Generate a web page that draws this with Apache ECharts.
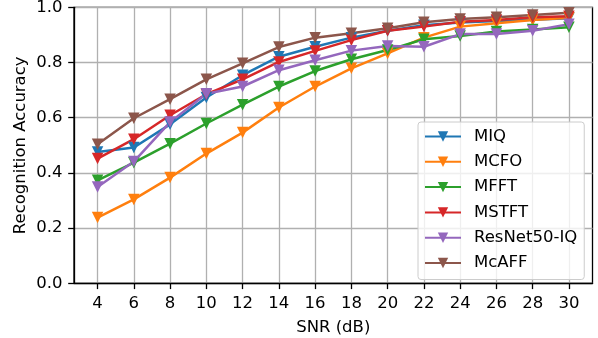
<!DOCTYPE html>
<html>
<head>
<meta charset="utf-8">
<script src="https://cdn.jsdelivr.net/npm/echarts@6/dist/echarts.min.js"></script>
<style>
  html, body { margin: 0; padding: 0; background: #fff; }
  #chart { width: 598px; height: 338px; }
</style>
</head>
<body>
<div id="chart"></div>
<script>
// SNR (dB) categories
var snr = [4, 6, 8, 10, 12, 14, 16, 18, 20, 22, 24, 26, 28, 30];

// recognition accuracy per model
var miq      = [0.476, 0.492, 0.576, 0.673, 0.754, 0.821, 0.857, 0.890, 0.915, 0.935, 0.945, 0.950, 0.955, 0.960];
var mcfo     = [0.238, 0.304, 0.383, 0.470, 0.546, 0.637, 0.713, 0.779, 0.833, 0.890, 0.930, 0.942, 0.954, 0.962];
var mfft     = [0.373, 0.437, 0.506, 0.579, 0.647, 0.713, 0.769, 0.812, 0.845, 0.884, 0.896, 0.912, 0.920, 0.928];
var mstft    = [0.452, 0.522, 0.609, 0.685, 0.739, 0.802, 0.842, 0.881, 0.915, 0.930, 0.948, 0.954, 0.964, 0.968];
var resnetIQ = [0.349, 0.441, 0.584, 0.687, 0.713, 0.772, 0.808, 0.843, 0.860, 0.857, 0.903, 0.903, 0.915, 0.939];
var mcaff    = [0.504, 0.598, 0.667, 0.739, 0.797, 0.856, 0.890, 0.906, 0.924, 0.946, 0.958, 0.964, 0.972, 0.980];

var names  = ['MIQ', 'MCFO', 'MFFT', 'MSTFT', 'ResNet50-IQ', 'McAFF'];
var values = [miq, mcfo, mfft, mstft, resnetIQ, mcaff];
var colors = ['#1f77b4', '#ff7f0e', '#2ca02c', '#d62728', '#9467bd', '#8c564b'];

var font = 'DejaVu Sans';
var fs = 16.5;

var chart = echarts.init(document.getElementById('chart'), null, { renderer: 'canvas' });

var series = names.map(function (n, i) {
    return {
        name: n,
        type: 'line',
        data: snr.map(function (x, k) { return [x, values[i][k]]; }),
        symbol: 'triangle',
        symbolRotate: 180,
        symbolSize: 11.5,
        showAllSymbol: true,
        lineStyle: { width: 2.5, color: colors[i] },
        itemStyle: { color: colors[i] },
        emphasis: { disabled: true },
        animation: false
    };
});

var o = {
    animation: false,
    color: colors,
    textStyle: { fontFamily: font },
    grid: {
        left: 74,
        right: 5.5,
        top: 7.3,
        bottom: 54.7,
        outerBoundsMode: 'none',
        containLabel: false,
        show: true,
        borderColor: '#000',
        borderWidth: 1.3
    },
    legend: {
        orient: 'vertical',
        left: 418,
        top: 122,
        padding: [6, 7, 8, 6],
        itemWidth: 36,
        itemHeight: 13,
        itemGap: 8.3,
        backgroundColor: 'rgba(255,255,255,0.8)',
        borderColor: '#cccccc',
        borderWidth: 1,
        borderRadius: 3,
        textStyle: { fontFamily: font, fontSize: fs, color: '#000', padding: [0, 0, 0, 8] },
        data: names
    },
    xAxis: {
        type: 'value',
        min: 2.7,
        max: 31.3,
        name: 'SNR (dB)',
        nameLocation: 'middle',
        nameGap: 36,
        nameMoveOverlap: false,
        nameTextStyle: { fontFamily: font, fontSize: fs, color: '#000' },
        axisLine: { show: true, onZero: false, lineStyle: { color: '#000', width: 1.3 } },
        axisTick: { show: true, length: 5.8, customValues: snr, lineStyle: { color: '#000', width: 1.3 } },
        axisLabel: { customValues: snr, margin: 11.6, fontFamily: font, fontSize: fs, color: '#000' },
        splitLine: { show: true, lineStyle: { color: '#b0b0b0', width: 1.3 } }
    },
    yAxis: {
        type: 'value',
        min: 0,
        max: 1,
        interval: 0.2,
        name: 'Recognition Accuracy',
        nameLocation: 'middle',
        nameGap: 45,
        nameMoveOverlap: false,
        nameTextStyle: { fontFamily: font, fontSize: fs, color: '#000' },
        axisLine: { show: true, lineStyle: { color: '#000', width: 1.3 } },
        axisTick: { show: true, length: 5.8, lineStyle: { color: '#000', width: 1.3 } },
        axisLabel: {
            margin: 11.6,
            fontFamily: font,
            fontSize: fs,
            color: '#000',
            formatter: function (v) { return v.toFixed(1); }
        },
        splitLine: { show: true, lineStyle: { color: '#b0b0b0', width: 1.3 } }
    },
    series: series
};

chart.setOption(o);
</script>
</body>
</html>
